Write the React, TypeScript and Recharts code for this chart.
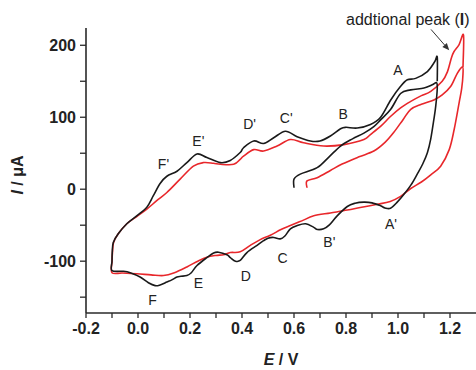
import React from "react";
import {
  ComposedChart,
  Line,
  Scatter,
  XAxis,
  YAxis,
  ReferenceDot,
  ReferenceLine,
} from "recharts";

// ---- Black CV (E / V, I / µA) ----
const blackScan1E = [0.6, 0.6, 0.624, 0.689, 0.735, 0.779, 0.825, 0.869, 0.907, 0.935, 0.972, 1.01, 1.049, 1.1, 1.132, 1.148];
const blackScan1I = [2, 14, 21, 30, 45, 60, 70, 78, 87, 97, 111, 133, 138, 140.5, 145, 148];

const blackRevE = [1.151, 1.145, 1.138, 1.126, 1.113, 1.095, 1.074, 1.05, 1.023, 0.997, 0.971, 0.95, 0.933, 0.9, 0.869, 0.835, 0.805, 0.766, 0.735, 0.714, 0.69, 0.676, 0.645, 0.612, 0.586, 0.565, 0.547, 0.522, 0.5, 0.483, 0.458, 0.419, 0.393, 0.375, 0.355, 0.342, 0.31, 0.291, 0.265, 0.227, 0.205, 0.188, 0.165, 0.15, 0.13, 0.111, 0.085, 0.066, 0.04, 0.008, -0.03, -0.056, -0.1];
const blackRevI = [140, 115, 97, 70, 50.7, 35, 21, 6, -7, -18, -26.5, -26, -23, -19, -18, -19.5, -24, -37, -50, -55, -56, -53, -48, -50.5, -55, -65, -69, -67, -68, -71.5, -78, -88, -99, -100, -95, -91, -87.5, -88.5, -95, -106, -116, -120, -121, -122, -126, -129, -133, -134, -130, -122, -116, -114, -113];

const blackScan2E = [-0.1, -0.099, -0.095, -0.076, -0.043, -0.005, 0.034, 0.059, 0.085, 0.111, 0.15, 0.188, 0.227, 0.265, 0.317, 0.355, 0.393, 0.406, 0.445, 0.483, 0.522, 0.567, 0.612, 0.663, 0.7, 0.74, 0.779, 0.8, 0.843, 0.894, 0.933, 0.972, 1.01, 1.036, 1.068, 1.113, 1.141, 1.151, 1.151];
const blackScan2I = [-100, -87, -74, -62, -48, -37, -25, -9, 8, 18, 25, 37, 49, 44, 37, 40, 51, 57.6, 67, 63.6, 71.5, 80.6, 73, 67, 67, 74, 84, 86, 85, 90, 100, 124, 143, 152, 154, 163.5, 177, 183.5, 150];

// ---- Red CV ----
const redScan1E = [0.65, 0.65, 0.689, 0.74, 0.785, 0.85, 0.907, 0.95, 0.984, 1.02, 1.049, 1.09, 1.138, 1.17, 1.203, 1.228, 1.248];
const redScan1I = [2, 11.5, 16, 26, 35, 45, 53, 65, 79, 97, 111, 118, 124, 131, 143, 161, 170];

const redRevE = [1.25, 1.245, 1.235, 1.216, 1.197, 1.164, 1.126, 1.09, 1.049, 1.01, 0.97, 0.92, 0.86, 0.805, 0.74, 0.676, 0.63, 0.586, 0.55, 0.509, 0.47, 0.432, 0.393, 0.355, 0.329, 0.3, 0.265, 0.23, 0.188, 0.14, 0.098, 0.05, -0.005, -0.06, -0.1];
const redRevI = [160, 140, 120, 83, 55, 32, 20, 10, 1, -10, -17, -21, -25, -29, -33, -37, -44, -50.5, -56, -64, -70, -78, -87, -88, -91, -92, -94.5, -100, -108, -116, -120, -119, -117.5, -116.5, -116];

const redScan2E = [-0.1, -0.098, -0.094, -0.076, -0.043, -0.005, 0.034, 0.072, 0.111, 0.162, 0.213, 0.252, 0.29, 0.317, 0.368, 0.393, 0.406, 0.445, 0.483, 0.535, 0.586, 0.637, 0.714, 0.792, 0.869, 0.894, 0.935, 0.971, 1.01, 1.049, 1.09, 1.126, 1.17, 1.19, 1.205, 1.215, 1.235, 1.252, 1.25];
const redScan2I = [-100, -87, -74, -62, -48, -38, -27.6, -16, -4.6, 14, 32, 37, 36, 34.6, 34.6, 41.5, 46, 55, 53, 60, 69, 64.5, 60, 62, 69, 76, 88, 101, 113, 122, 130, 136, 150, 163, 182, 191, 201, 214, 170];

// ---- Peak labels ----
const peakLabels = ["A", "B", "C'", "D'", "E'", "F'", "F", "E", "D", "C", "B'", "A'"];
const peakLabelE = [1.0, 0.789, 0.57, 0.429, 0.232, 0.098, 0.056, 0.232, 0.415, 0.556, 0.736, 0.973];
const peakLabelI = [166, 104, 99, 90, 67, 34.6, -154, -131, -120, -96, -74, -48];

const xTicks = [-0.2, -0.1, 0, 0.1, 0.2, 0.3, 0.4, 0.5, 0.6, 0.7, 0.8, 0.9, 1.0, 1.1, 1.2];
const yTicks = [-150, -100, -50, 0, 50, 100, 150, 200];

const zip = (es: number[], is: number[]) => es.map((e, i) => ({ E: e, I: is[i] }));
const blackData = [...zip(blackScan1E, blackScan1I), ...zip(blackRevE, blackRevI), ...zip(blackScan2E, blackScan2I)];
const redData = [...zip(redScan1E, redScan1I), ...zip(redRevE, redRevI), ...zip(redScan2E, redScan2I)];
const labelData = peakLabels.map((t, i) => ({ E: peakLabelE[i], I: peakLabelI[i], t }));

// Catmull-Rom curve factory (smooth curve through every point, in data order)
const catmullRom = (context: any) => {
  let pts: number[][] = [];
  return {
    areaStart() {},
    areaEnd() {},
    lineStart() {
      pts = [];
    },
    point(x: number, y: number) {
      pts.push([+x, +y]);
    },
    lineEnd() {
      const n = pts.length;
      if (!n) return;
      context.moveTo(pts[0][0], pts[0][1]);
      for (let i = 0; i < n - 1; i++) {
        const p0 = pts[i > 0 ? i - 1 : i];
        const p1 = pts[i];
        const p2 = pts[i + 1];
        const p3 = pts[i + 2 < n ? i + 2 : i + 1];
        context.bezierCurveTo(
          p1[0] + (p2[0] - p0[0]) / 6,
          p1[1] + (p2[1] - p0[1]) / 6,
          p2[0] - (p3[0] - p1[0]) / 6,
          p2[1] - (p3[1] - p1[1]) / 6,
          p2[0],
          p2[1]
        );
      }
    },
  };
};

const FONT = "'Liberation Sans', Arial, sans-serif";
const AXIS = "#2a2a2a";

const XTick = (props: any) => {
  const { x, y, payload } = props;
  const v = payload.value;
  if (Math.round(v * 10) % 2 !== 0) return null;
  return (
    <text x={x} y={y} dy={12} textAnchor="middle" fontFamily={FONT} fontWeight="bold" fontSize={16} fill="#222">
      {v.toFixed(1)}
    </text>
  );
};

const YTick = (props: any) => {
  const { x, y, payload } = props;
  const v = payload.value;
  if (v % 100 !== 0) return null;
  return (
    <text x={x} y={y} dy={5.5} textAnchor="end" fontFamily={FONT} fontWeight="bold" fontSize={16} fill="#222">
      {v}
    </text>
  );
};

const YTitle = () => (
  <text
    x={23}
    y={175}
    transform="rotate(-90 23 175)"
    textAnchor="middle"
    fontFamily={FONT}
    fontWeight="bold"
    fontSize={16}
    fill="#222"
  >
    <tspan fontStyle="italic">I</tspan>
    <tspan> / μA</tspan>
  </text>
);

const XTitle = () => (
  <text x={281} y={365} textAnchor="middle" fontFamily={FONT} fontWeight="bold" fontSize={16} fill="#222">
    <tspan fontStyle="italic">E</tspan>
    <tspan> / V</tspan>
  </text>
);

const PeakLabel = (props: any) => {
  const { cx, cy, payload } = props;
  return (
    <text x={cx} y={cy} dy={5} textAnchor="middle" fontFamily={FONT} fontSize={14} fill="#222">
      {payload.t}
    </text>
  );
};

const NoteText = (props: any) => (
  <text x={props.cx} y={props.cy} textAnchor="start" fontFamily={FONT} fontSize={16} fill="#222">
    addtional peak (<tspan fontWeight="bold">I</tspan>)
  </text>
);

const ArrowShape = (props: any) => {
  const { x1, y1, x2, y2 } = props;
  if (x1 == null) return null;
  const ang = Math.atan2(y2 - y1, x2 - x1);
  const L = 7;
  const W = 3;
  const bx = x2 - L * Math.cos(ang);
  const by = y2 - L * Math.sin(ang);
  const px = -Math.sin(ang) * W;
  const py = Math.cos(ang) * W;
  return (
    <g>
      <line x1={x1} y1={y1} x2={bx} y2={by} stroke="#333" strokeWidth={1} />
      <polygon points={`${x2},${y2} ${bx + px},${by + py} ${bx - px},${by - py}`} fill="#333" />
    </g>
  );
};

export default function App() {
  return (
    <div style={{ position: "absolute", left: 0, top: 0, width: 476, height: 370, background: "#fff" }}>
      <ComposedChart width={476} height={370} margin={{ top: 28, right: 0, bottom: 0, left: 0 }}>
        <XAxis
          type="number"
          dataKey="E"
          domain={[-0.2, 1.3]}
          allowDataOverflow
          ticks={xTicks}
          tick={<XTick />}
          tickSize={5}
          tickMargin={4}
          height={57}
          interval={0}
          axisLine={{ stroke: AXIS, strokeWidth: 1.6 }}
          tickLine={{ stroke: AXIS, strokeWidth: 1.3 }}
        />
        <YAxis
          type="number"
          dataKey="I"
          domain={[-172, 224]}
          allowDataOverflow
          ticks={yTicks}
          tick={<YTick />}
          tickSize={6}
          tickMargin={4}
          width={86}
          interval={0}
          axisLine={{ stroke: AXIS, strokeWidth: 1.6 }}
          tickLine={{ stroke: AXIS, strokeWidth: 1.3 }}
        />
        <Line
          data={redData}
          dataKey="I"
          type={catmullRom as any}
          stroke="#e8272b"
          strokeWidth={1.6}
          dot={false}
          activeDot={false}
          isAnimationActive={false}
        />
        <Line
          data={blackData}
          dataKey="I"
          type={catmullRom as any}
          stroke="#1a1a1a"
          strokeWidth={1.6}
          dot={false}
          activeDot={false}
          isAnimationActive={false}
        />
        <Scatter data={labelData} dataKey="I" shape={<PeakLabel />} isAnimationActive={false} />
        <ReferenceDot x={0.8} y={228} ifOverflow="visible" shape={<NoteText />} />
        <ReferenceLine
          segment={[
            { x: 1.127, y: 222 },
            { x: 1.197, y: 193 },
          ]}
          ifOverflow="visible"
          shape={<ArrowShape />}
        />
      </ComposedChart>
      <svg width={476} height={370} style={{ position: "absolute", left: 0, top: 0, pointerEvents: "none" }}>
        <YTitle />
        <XTitle />
      </svg>
    </div>
  );
}
